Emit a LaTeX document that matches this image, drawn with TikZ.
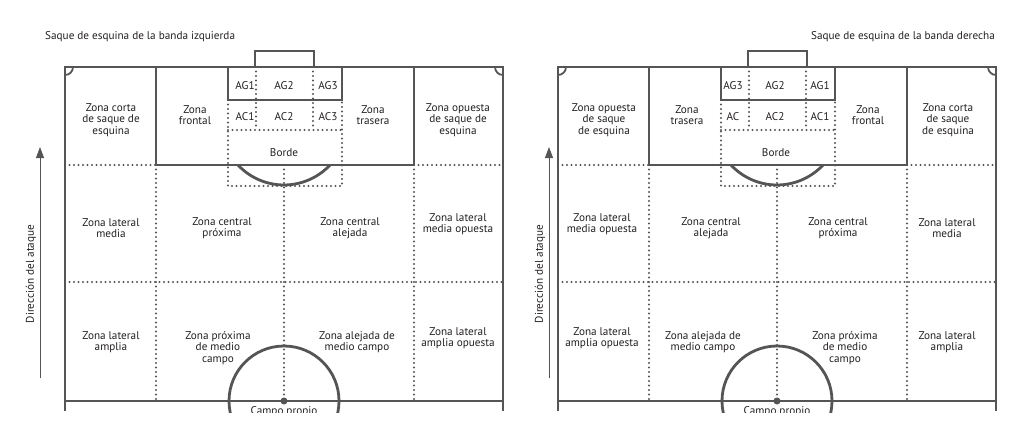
\documentclass[tikz,border=0pt]{standalone}
\usepackage{fontspec}
\setmainfont{PT Sans}
\usepackage{xcolor}
\usetikzlibrary{arrows.meta}
\definecolor{linegray}{HTML}{555555}
\definecolor{textgray}{HTML}{231F20}

\begin{document}
\begin{tikzpicture}[x=1pt,y=-1pt,
            line/.style={draw=linegray,line width=2.8pt},
            dots/.style={draw=linegray,line width=2.1pt,line cap=round,dash pattern=on 0pt off 4.5pt},
            zone/.style={font=\fontsize{11.2}{11.4}\selectfont,align=center,text=textgray,inner sep=0pt},
            >={Triangle[length=11pt,width=8pt]}]
            \useasboundingbox (0,0) rectangle (1024,441);

            % Both pitches
            \foreach \ox in {65,558} {
            \begin{scope}[xshift=\ox,yshift=-67]
            \clip (-20,-30) rectangle (458,345);
            \draw[line] (0,344) -- (0,0) -- (438,0) -- (438,344);
            \draw[line] (0,334) -- (438,334);
            \draw[line] (190,0) -- (190,-16) -- (249,-16) -- (249,0);
            \draw[line] (91,0) rectangle (349,98);
            \draw[line] (163,0) rectangle (277,33);
            \draw[line] (219,55) ++(136.9:63) arc[start angle=136.9,end angle=43.1,radius=63];
            \draw[line] (219,334) circle[radius=55];
            \fill[linegray] (219,334) circle[radius=3.5];
            \draw[line,line width=1.8pt] (8,0) arc[start angle=0,end angle=90,radius=8];
            \draw[line,line width=1.8pt] (430,0) arc[start angle=180,end angle=90,radius=8];
            % goal area and edge of the box
            \draw[dots] (191,0) -- (191,63);
            \draw[dots] (248,0) -- (248,63);
            \draw[dots] (163,63) -- (277,63);
            \draw[dots] (163,33) -- (163,119) -- (277,119) -- (277,33);
            % zones
            \draw[dots] (0,98) -- (91,98);
            \draw[dots] (349,98) -- (438,98);
            \draw[dots] (0,215) -- (438,215);
            \draw[dots] (91,98) -- (91,334);
            \draw[dots] (219,98) -- (219,334);
            \draw[dots] (349,98) -- (349,334);
            \node[zone,anchor=base] at (219,347) {Campo propio};
            \end{scope}
            }

            % Left pitch
            \node[zone,anchor=west] (titleL) at (45,37) {Saque de esquina de la banda izquierda};
            \coordinate (arrL0) at (40,378);
            \coordinate (arrL1) at (40,147);
            \draw[->,linegray,line width=0.9pt] (arrL0) -- (arrL1);
            \node[zone,rotate=90] (dirL) at (31,274) {Dirección del ataque};
            \begin{scope}[xshift=65,yshift=-67]
            \node[zone] (cortaL)   at (46,53)   {Zona corta\\de saque de\\esquina};
            \node[zone] (frontalL) at (130,48)  {Zona\\frontal};
            \node[zone] (ag1L)     at (180,19)  {AG1};
            \node[zone] (ag2L)     at (219,19)  {AG2};
            \node[zone] (ag3L)     at (263,19)  {AG3};
            \node[zone] (ac1L)     at (180,50)  {AC1};
            \node[zone] (ac2L)     at (219,50)  {AC2};
            \node[zone] (ac3L)     at (263,50)  {AC3};
            \node[zone] (bordeL)   at (219,86)  {Borde};
            \node[zone] (traseraL) at (308,48)  {Zona\\trasera};
            \node[zone] (opuestaL) at (393,53)  {Zona opuesta\\de saque de\\esquina};
            \node[zone] (latmL)    at (46,161)  {Zona lateral\\media};
            \node[zone] (cenpL)    at (157,161) {Zona central\\próxima};
            \node[zone] (cenaL)    at (285,161) {Zona central\\alejada};
            \node[zone] (latmoL)   at (393,157) {Zona lateral\\media opuesta};
            \node[zone] (latamL)   at (46,275)  {Zona lateral\\amplia};
            \node[zone] (medpL)    at (153,281) {Zona próxima\\de medio\\campo};
            \node[zone] (medaL)    at (292,275) {Zona alejada de\\medio campo};
            \node[zone] (latamoL)  at (393,271) {Zona lateral\\amplia opuesta};
            \end{scope}

            % Right pitch
            \node[zone,anchor=east] (titleR) at (995,37) {Saque de esquina de la banda derecha};
            \coordinate (arrR0) at (549,378);
            \coordinate (arrR1) at (549,147);
            \draw[->,linegray,line width=0.9pt] (arrR0) -- (arrR1);
            \node[zone,rotate=90] (dirR) at (540,274) {Dirección del ataque};
            \begin{scope}[xshift=558,yshift=-67]
            \node[zone] (opuestaR) at (46,53)   {Zona opuesta\\de saque\\de esquina};
            \node[zone] (traseraR) at (129,48)  {Zona\\trasera};
            \node[zone] (ag3R)     at (175,19)  {AG3};
            \node[zone] (ag2R)     at (217,19)  {AG2};
            \node[zone] (ag1R)     at (262,19)  {AG1};
            \node[zone] (acR)      at (175,50)  {AC};
            \node[zone] (ac2R)     at (217,50)  {AC2};
            \node[zone] (ac1R)     at (262,50)  {AC1};
            \node[zone] (bordeR)   at (218,86)  {Borde};
            \node[zone] (frontalR) at (310,48)  {Zona\\frontal};
            \node[zone] (cortaR)   at (390,53)  {Zona corta\\de saque\\de esquina};
            \node[zone] (latmoR)   at (44,157)  {Zona lateral\\media opuesta};
            \node[zone] (cenaR)    at (153,161) {Zona central\\alejada};
            \node[zone] (cenpR)    at (280,161) {Zona central\\próxima};
            \node[zone] (latmR)    at (389,161) {Zona lateral\\media};
            \node[zone] (latamoR)  at (44,271)  {Zona lateral\\amplia opuesta};
            \node[zone] (medaR)    at (145,275) {Zona alejada de\\medio campo};
            \node[zone] (medpR)    at (287,281) {Zona próxima\\de medio\\campo};
            \node[zone] (latamR)   at (389,275) {Zona lateral\\amplia};
            \end{scope}

\end{tikzpicture}
\end{document}
